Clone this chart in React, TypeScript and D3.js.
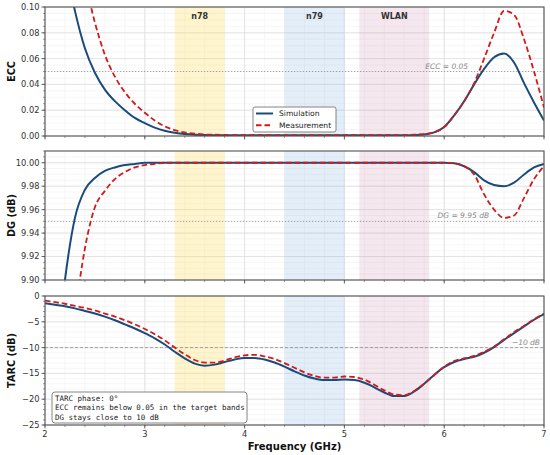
import * as d3 from "d3";

// frequency grid (GHz)
const freq = [
  2.0, 2.1, 2.2, 2.3, 2.4, 2.5, 2.6, 2.7, 2.8, 2.9,
  3.0, 3.1, 3.2, 3.3, 3.4, 3.5, 3.6, 3.7, 3.8, 3.9,
  4.0, 4.1, 4.2, 4.3, 4.4, 4.5, 4.6, 4.7, 4.8, 4.9,
  5.0, 5.1, 5.2, 5.3, 5.4, 5.5, 5.6, 5.7, 5.8, 5.9,
  6.0, 6.1, 6.2, 6.3, 6.4, 6.5, 6.6, 6.7, 6.8, 6.9, 7.0,
];

const eccSim = [
  0.26, 0.19, 0.135, 0.097, 0.068, 0.049, 0.036, 0.027, 0.02, 0.014,
  0.01, 0.0065, 0.004, 0.0025, 0.0015, 0.001, 0.0008, 0.0006, 0.0005, 0.0005,
  0.0005, 0.0005, 0.0005, 0.0005, 0.0005, 0.0005, 0.0005, 0.0005, 0.0005, 0.0005,
  0.0005, 0.0005, 0.0005, 0.0005, 0.0005, 0.0005, 0.0006, 0.0008, 0.0012, 0.0028,
  0.007, 0.016, 0.027, 0.04, 0.052, 0.061, 0.064, 0.057, 0.041, 0.026, 0.012,
];
const eccMeas = [
  0.3, 0.24, 0.19, 0.15, 0.12, 0.088, 0.063, 0.046, 0.034, 0.025,
  0.018, 0.012, 0.0075, 0.0045, 0.0028, 0.0018, 0.0012, 0.001, 0.0008, 0.0007,
  0.0006, 0.0006, 0.0006, 0.0006, 0.0006, 0.0006, 0.0006, 0.0006, 0.0006, 0.0006,
  0.0006, 0.0006, 0.0006, 0.0006, 0.0006, 0.0006, 0.0007, 0.001, 0.0015, 0.003,
  0.007, 0.016, 0.027, 0.041, 0.06, 0.08, 0.097, 0.094, 0.075, 0.05, 0.022,
];

const dgSim = [
  9.7, 9.82, 9.9, 9.953, 9.977, 9.987, 9.993, 9.996, 9.998, 9.999,
  10.0, 10.0, 10.0, 10.0, 10.0, 10.0, 10.0, 10.0, 10.0, 10.0,
  10.0, 10.0, 10.0, 10.0, 10.0, 10.0, 10.0, 10.0, 10.0, 10.0,
  10.0, 10.0, 10.0, 10.0, 10.0, 10.0, 10.0, 10.0, 10.0, 10.0,
  10.0, 9.9995, 9.997, 9.992, 9.985, 9.981, 9.98, 9.983, 9.99, 9.996, 9.999,
];
const dgMeas = [
  9.6, 9.71, 9.8, 9.87, 9.927, 9.962, 9.976, 9.986, 9.992, 9.996,
  9.998, 9.999, 10.0, 10.0, 10.0, 10.0, 10.0, 10.0, 10.0, 10.0,
  10.0, 10.0, 10.0, 10.0, 10.0, 10.0, 10.0, 10.0, 10.0, 10.0,
  10.0, 10.0, 10.0, 10.0, 10.0, 10.0, 10.0, 10.0, 10.0, 10.0,
  10.0, 9.9995, 9.997, 9.99, 9.973, 9.96, 9.953, 9.955, 9.97, 9.986, 9.997,
];

const tarcSim = [
  -1.4, -1.7, -2.0, -2.4, -2.9, -3.4, -4.0, -4.7, -5.5, -6.3,
  -7.2, -8.2, -9.4, -10.8, -12.1, -13.1, -13.5, -13.3, -12.8, -12.3,
  -12.0, -12.0, -12.3, -12.9, -13.7, -14.6, -15.4, -16.0, -16.3, -16.3,
  -16.2, -16.3, -16.8, -17.7, -18.7, -19.4, -19.4, -18.5, -17.0, -15.3,
  -13.8, -12.8, -12.2, -11.8, -11.0, -9.9, -8.5, -7.2, -5.9, -4.6, -3.5,
];
const tarcMeas = [
  -0.9, -1.2, -1.5, -1.9, -2.3, -2.8, -3.4, -4.0, -4.7, -5.5,
  -6.4, -7.4, -8.6, -10.0, -11.3, -12.4, -12.9, -12.9, -12.5, -11.9,
  -11.5, -11.4, -11.7, -12.2, -13.0, -13.9, -14.8, -15.5, -15.8, -15.8,
  -15.6, -15.7, -16.2, -17.2, -18.3, -19.1, -19.2, -18.4, -17.0, -15.3,
  -13.7, -12.6, -12.1, -11.6, -10.8, -9.8, -8.4, -7.0, -5.8, -4.5, -3.4,
];

const bandNames = ["n78", "n79", "WLAN"];
const bandStart = [3.3, 4.4, 5.15];
const bandEnd = [3.8, 5.0, 5.85];
const bandColors = ["rgba(250,210,60,0.25)", "rgba(120,170,225,0.2)", "rgba(200,120,160,0.18)"];

const legendLabels = ["Simulation", "Measurement"];
const noteLines = [
  "TARC phase: 0°",
  "ECC remains below 0.05 in the target bands",
  "DG stays close to 10 dB",
];

const BLUE = "#1b4b7a";
const RED = "#d11a1a";
const FONT = "DejaVu Sans, sans-serif";

const W = 550;
const H = 455;
const left = 45;
const right = 544;

const x = d3.scaleLinear().domain([2, 7]).range([left, right]);
const xMajor = [2, 3, 4, 5, 6, 7];
const xMinor = d3.range(2, 7.001, 0.2);

type Panel = {
  id: string;
  top: number;
  bottom: number;
  domain: [number, number];
  major: number[];
  minor: number[];
  fmt: (v: number) => string;
  label: string;
  sim: number[];
  meas: number[];
  ref: number;
  refLabel: string;
  refLabelX: number;
  refDash: string;
};

const minus = (s: string) => s.replace("-", "\u2212");

const panels: Panel[] = [
  {
    id: "ecc",
    top: 7,
    bottom: 136,
    domain: [0, 0.1],
    major: [0, 0.02, 0.04, 0.06, 0.08, 0.1],
    minor: d3.range(0, 0.1001, 0.005),
    fmt: d3.format(".2f"),
    label: "ECC",
    sim: eccSim,
    meas: eccMeas,
    ref: 0.05,
    refLabel: "ECC = 0.05",
    refLabelX: 6.24,
    refDash: "1.2,1.8",
  },
  {
    id: "dg",
    top: 151,
    bottom: 280,
    domain: [9.9, 10.01],
    major: [9.9, 9.92, 9.94, 9.96, 9.98, 10.0],
    minor: d3.range(9.9, 10.0101, 0.005),
    fmt: d3.format(".2f"),
    label: "DG (dB)",
    sim: dgSim,
    meas: dgMeas,
    ref: 9.95,
    refLabel: "DG = 9.95 dB",
    refLabelX: 6.45,
    refDash: "1.2,1.8",
  },
  {
    id: "tarc",
    top: 296,
    bottom: 425,
    domain: [-25, 0],
    major: [-25, -20, -15, -10, -5, 0],
    minor: d3.range(-25, 0.001, 1),
    fmt: (v: number) => minus(d3.format("d")(v)),
    label: "TARC (dB)",
    sim: tarcSim,
    meas: tarcMeas,
    ref: -10,
    refLabel: "\u221210 dB",
    refLabelX: 6.96,
    refDash: "3,2",
  },
];

function PanelView({ p, first, last }: { p: Panel; first: boolean; last: boolean }) {
  const y = d3.scaleLinear().domain(p.domain).range([p.bottom, p.top]);
  const line = d3
    .line<number>()
    .x((_, i) => x(freq[i]))
    .y((d) => y(d))
    .curve(d3.curveMonotoneX);
  const h = p.bottom - p.top;

  return (
    <g>
      <defs>
        <clipPath id={`clip-${p.id}`}>
          <rect x={left} y={p.top} width={right - left} height={h} />
        </clipPath>
      </defs>
      <rect x={left} y={p.top} width={right - left} height={h} fill="#fff" />
      {/* minor grid */}
      {xMinor.map((v) => (
        <line key={`xm${v}`} x1={x(v)} x2={x(v)} y1={p.top} y2={p.bottom} stroke="#f0f0f0" strokeWidth={0.6} />
      ))}
      {p.minor.map((v) => (
        <line key={`ym${v}`} x1={left} x2={right} y1={y(v)} y2={y(v)} stroke="#f0f0f0" strokeWidth={0.6} />
      ))}
      {/* major grid */}
      {xMajor.map((v) => (
        <line key={`xM${v}`} x1={x(v)} x2={x(v)} y1={p.top} y2={p.bottom} stroke="#dedede" strokeWidth={0.8} />
      ))}
      {p.major.map((v) => (
        <line key={`yM${v}`} x1={left} x2={right} y1={y(v)} y2={y(v)} stroke="#dedede" strokeWidth={0.8} />
      ))}
      {/* bands */}
      {bandNames.map((b, i) => (
        <rect
          key={b}
          x={x(bandStart[i])}
          y={p.top}
          width={x(bandEnd[i]) - x(bandStart[i])}
          height={h}
          fill={bandColors[i]}
        />
      ))}
      {first &&
        bandNames.map((b, i) => (
          <text
            key={`bl${b}`}
            x={x((bandStart[i] + bandEnd[i]) / 2)}
            y={p.top + 11.5}
            textAnchor="middle"
            fontFamily={FONT}
            fontSize={8}
            fontWeight="bold"
            fill="#333"
          >
            {b}
          </text>
        ))}
      {/* reference line */}
      <line
        x1={left}
        x2={right}
        y1={y(p.ref)}
        y2={y(p.ref)}
        stroke="#999"
        strokeWidth={0.9}
        strokeDasharray={p.refDash}
      />
      <text
        x={x(p.refLabelX)}
        y={y(p.ref) - 3}
        textAnchor="end"
        fontFamily={FONT}
        fontSize={7.5}
        fontStyle="italic"
        fill="#8a8a8a"
      >
        {p.refLabel}
      </text>
      {/* curves */}
      <g clipPath={`url(#clip-${p.id})`}>
        <path d={line(p.sim) ?? ""} fill="none" stroke={BLUE} strokeWidth={2} />
        <path d={line(p.meas) ?? ""} fill="none" stroke={RED} strokeWidth={1.8} strokeDasharray="5.5,3" />
      </g>
      {/* frame */}
      <rect x={left} y={p.top} width={right - left} height={h} fill="none" stroke="#555" strokeWidth={1.1} />
      {/* y ticks */}
      {p.minor.map((v) => (
        <line key={`ytm${v}`} x1={left - 2} x2={left} y1={y(v)} y2={y(v)} stroke="#555" strokeWidth={0.6} />
      ))}
      {p.major.map((v) => (
        <g key={`yt${v}`}>
          <line x1={left - 3.5} x2={left} y1={y(v)} y2={y(v)} stroke="#555" strokeWidth={0.9} />
          <text x={left - 5.5} y={y(v)} dy="0.35em" textAnchor="end" fontFamily={FONT} fontSize={8.3} fill="#333">
            {p.fmt(v)}
          </text>
        </g>
      ))}
      {/* x ticks */}
      {xMinor.map((v) => (
        <line key={`xtm${v}`} x1={x(v)} x2={x(v)} y1={p.bottom} y2={p.bottom + 2} stroke="#555" strokeWidth={0.6} />
      ))}
      {xMajor.map((v) => (
        <g key={`xt${v}`}>
          <line x1={x(v)} x2={x(v)} y1={p.bottom} y2={p.bottom + 3.5} stroke="#555" strokeWidth={0.9} />
          {last && (
            <text x={x(v)} y={p.bottom + 12} textAnchor="middle" fontFamily={FONT} fontSize={8.3} fill="#333">
              {v}
            </text>
          )}
        </g>
      ))}
      <text
        transform={`translate(15,${(p.top + p.bottom) / 2}) rotate(-90)`}
        textAnchor="middle"
        fontFamily={FONT}
        fontSize={9.8}
        fontWeight="bold"
        fill="#111"
      >
        {p.label}
      </text>
    </g>
  );
}

export default function App() {
  const lg = { x: 253, y: 107, w: 83, h: 25 };
  return (
    <svg width={W} height={H} style={{ position: "absolute", left: 0, top: 0 }}>
      <rect width={W} height={H} fill="#fff" />
      {panels.map((p, i) => (
        <PanelView key={p.id} p={p} first={i === 0} last={i === panels.length - 1} />
      ))}
      {/* legend */}
      <rect x={lg.x} y={lg.y} width={lg.w} height={lg.h} rx={2} fill="#fff" stroke="#777" strokeWidth={0.9} />
      {legendLabels.map((l, i) => (
        <g key={l}>
          <line
            x1={lg.x + 3}
            x2={lg.x + 20}
            y1={lg.y + 6.5 + i * 11.7}
            y2={lg.y + 6.5 + i * 11.7}
            stroke={i === 0 ? BLUE : RED}
            strokeWidth={2}
            strokeDasharray={i === 0 ? undefined : "5.5,3"}
          />
          <text x={lg.x + 26} y={lg.y + 6.5 + i * 11.7} dy="0.35em" fontFamily={FONT} fontSize={7.6} fill="#222">
            {l}
          </text>
        </g>
      ))}
      {/* note box */}
      <rect x={52} y={392} width={195} height={31} rx={3} fill="#fff" stroke="#777" strokeWidth={0.9} />
      {noteLines.map((t, i) => (
        <text
          key={t}
          x={55}
          y={398.5 + i * 9.2}
          dy="0.35em"
          fontFamily="DejaVu Sans Mono, monospace"
          fontSize={7.5}
          fill="#222"
        >
          {t}
        </text>
      ))}
      <text x={(left + right) / 2} y={450} textAnchor="middle" fontFamily={FONT} fontSize={10} fontWeight="bold" fill="#111">
        Frequency (GHz)
      </text>
    </svg>
  );
}
